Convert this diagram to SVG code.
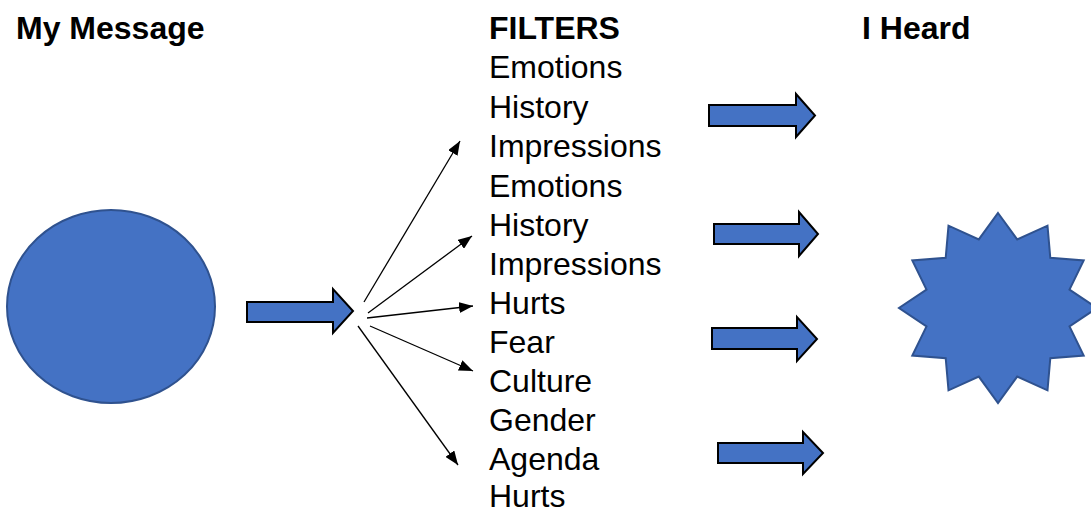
<svg xmlns="http://www.w3.org/2000/svg" width="1091" height="510" viewBox="0 0 1091 510">
<defs>
<style>
.hdr{font-family:"Liberation Sans",Arial,sans-serif;font-size:32px;font-weight:bold;fill:#000}
.lst{font-family:"Liberation Sans",Arial,sans-serif;font-size:32px;fill:#000}
.shape{fill:#4472C4;stroke:#2F528F;stroke-width:2}
.blk{fill:#4472C4;stroke:#000;stroke-width:2;stroke-linejoin:miter}
.fan{stroke:#000;stroke-width:1.3;fill:none;marker-end:url(#ah)}
</style>
<marker id="ah" viewBox="0 0 14 11" refX="14" refY="5.5" markerWidth="14" markerHeight="11" markerUnits="userSpaceOnUse" orient="auto">
<path d="M0,0 L14,5.5 L0,11 Z" fill="#000"/>
</marker>
</defs>
<g id="title-message"><text class="hdr" x="16" y="39">My Message</text></g>
<g id="title-filters"><text class="hdr" x="489" y="39">FILTERS</text></g>
<g id="title-heard"><text class="hdr" x="862" y="39">I Heard</text></g>
<g id="filters-list">
<text class="lst" x="489" y="78">Emotions</text>
<text class="lst" x="489" y="118">History</text>
<text class="lst" x="489" y="157">Impressions</text>
<text class="lst" x="489" y="197">Emotions</text>
<text class="lst" x="489" y="236">History</text>
<text class="lst" x="489" y="275">Impressions</text>
<text class="lst" x="489" y="314">Hurts</text>
<text class="lst" x="489" y="353">Fear</text>
<text class="lst" x="489" y="392">Culture</text>
<text class="lst" x="489" y="431">Gender</text>
<text class="lst" x="489" y="470">Agenda</text>
<text class="lst" x="489" y="507">Hurts</text>
</g>
<g id="message-circle"><ellipse class="shape" cx="111" cy="306.5" rx="104" ry="96.5"/></g>
<g id="heard-star"><polygon class="shape" points="998,213 1017.2,239.4 1047.5,225.7 1050.3,257.8 1083.7,260.5 1069.5,289.6 1097,308 1069.5,326.4 1083.7,355.5 1050.3,358.2 1047.5,390.3 1017.2,376.6 998,403 978.8,376.6 948.5,390.3 945.7,358.2 912.3,355.5 926.5,326.4 899,308 926.5,289.6 912.3,260.5 945.7,257.8 948.5,225.7 978.8,239.4"/></g>
<g id="connectors">
<path class="blk" d="M247,302 H333 V289 L353,311 L333,333 V322 H247 Z"/>
<path class="blk" d="M709,105 H796 V94 L815,115.5 L796,137 V126 H709 Z"/>
<path class="blk" d="M714,224 H799 V212 L818,234 L799,256 V244 H714 Z"/>
<path class="blk" d="M712,328 H797 V317 L817,339 L797,361 V349 H712 Z"/>
<path class="blk" d="M718,443 H803 V432 L823,453 L803,474 V463 H718 Z"/>
<line class="fan" x1="364" y1="302" x2="460" y2="141"/>
<line class="fan" x1="368" y1="313" x2="472" y2="236"/>
<line class="fan" x1="367" y1="318" x2="473" y2="306"/>
<line class="fan" x1="370" y1="326" x2="473" y2="371"/>
<line class="fan" x1="358" y1="326" x2="458" y2="465"/>
</g>
</svg>
